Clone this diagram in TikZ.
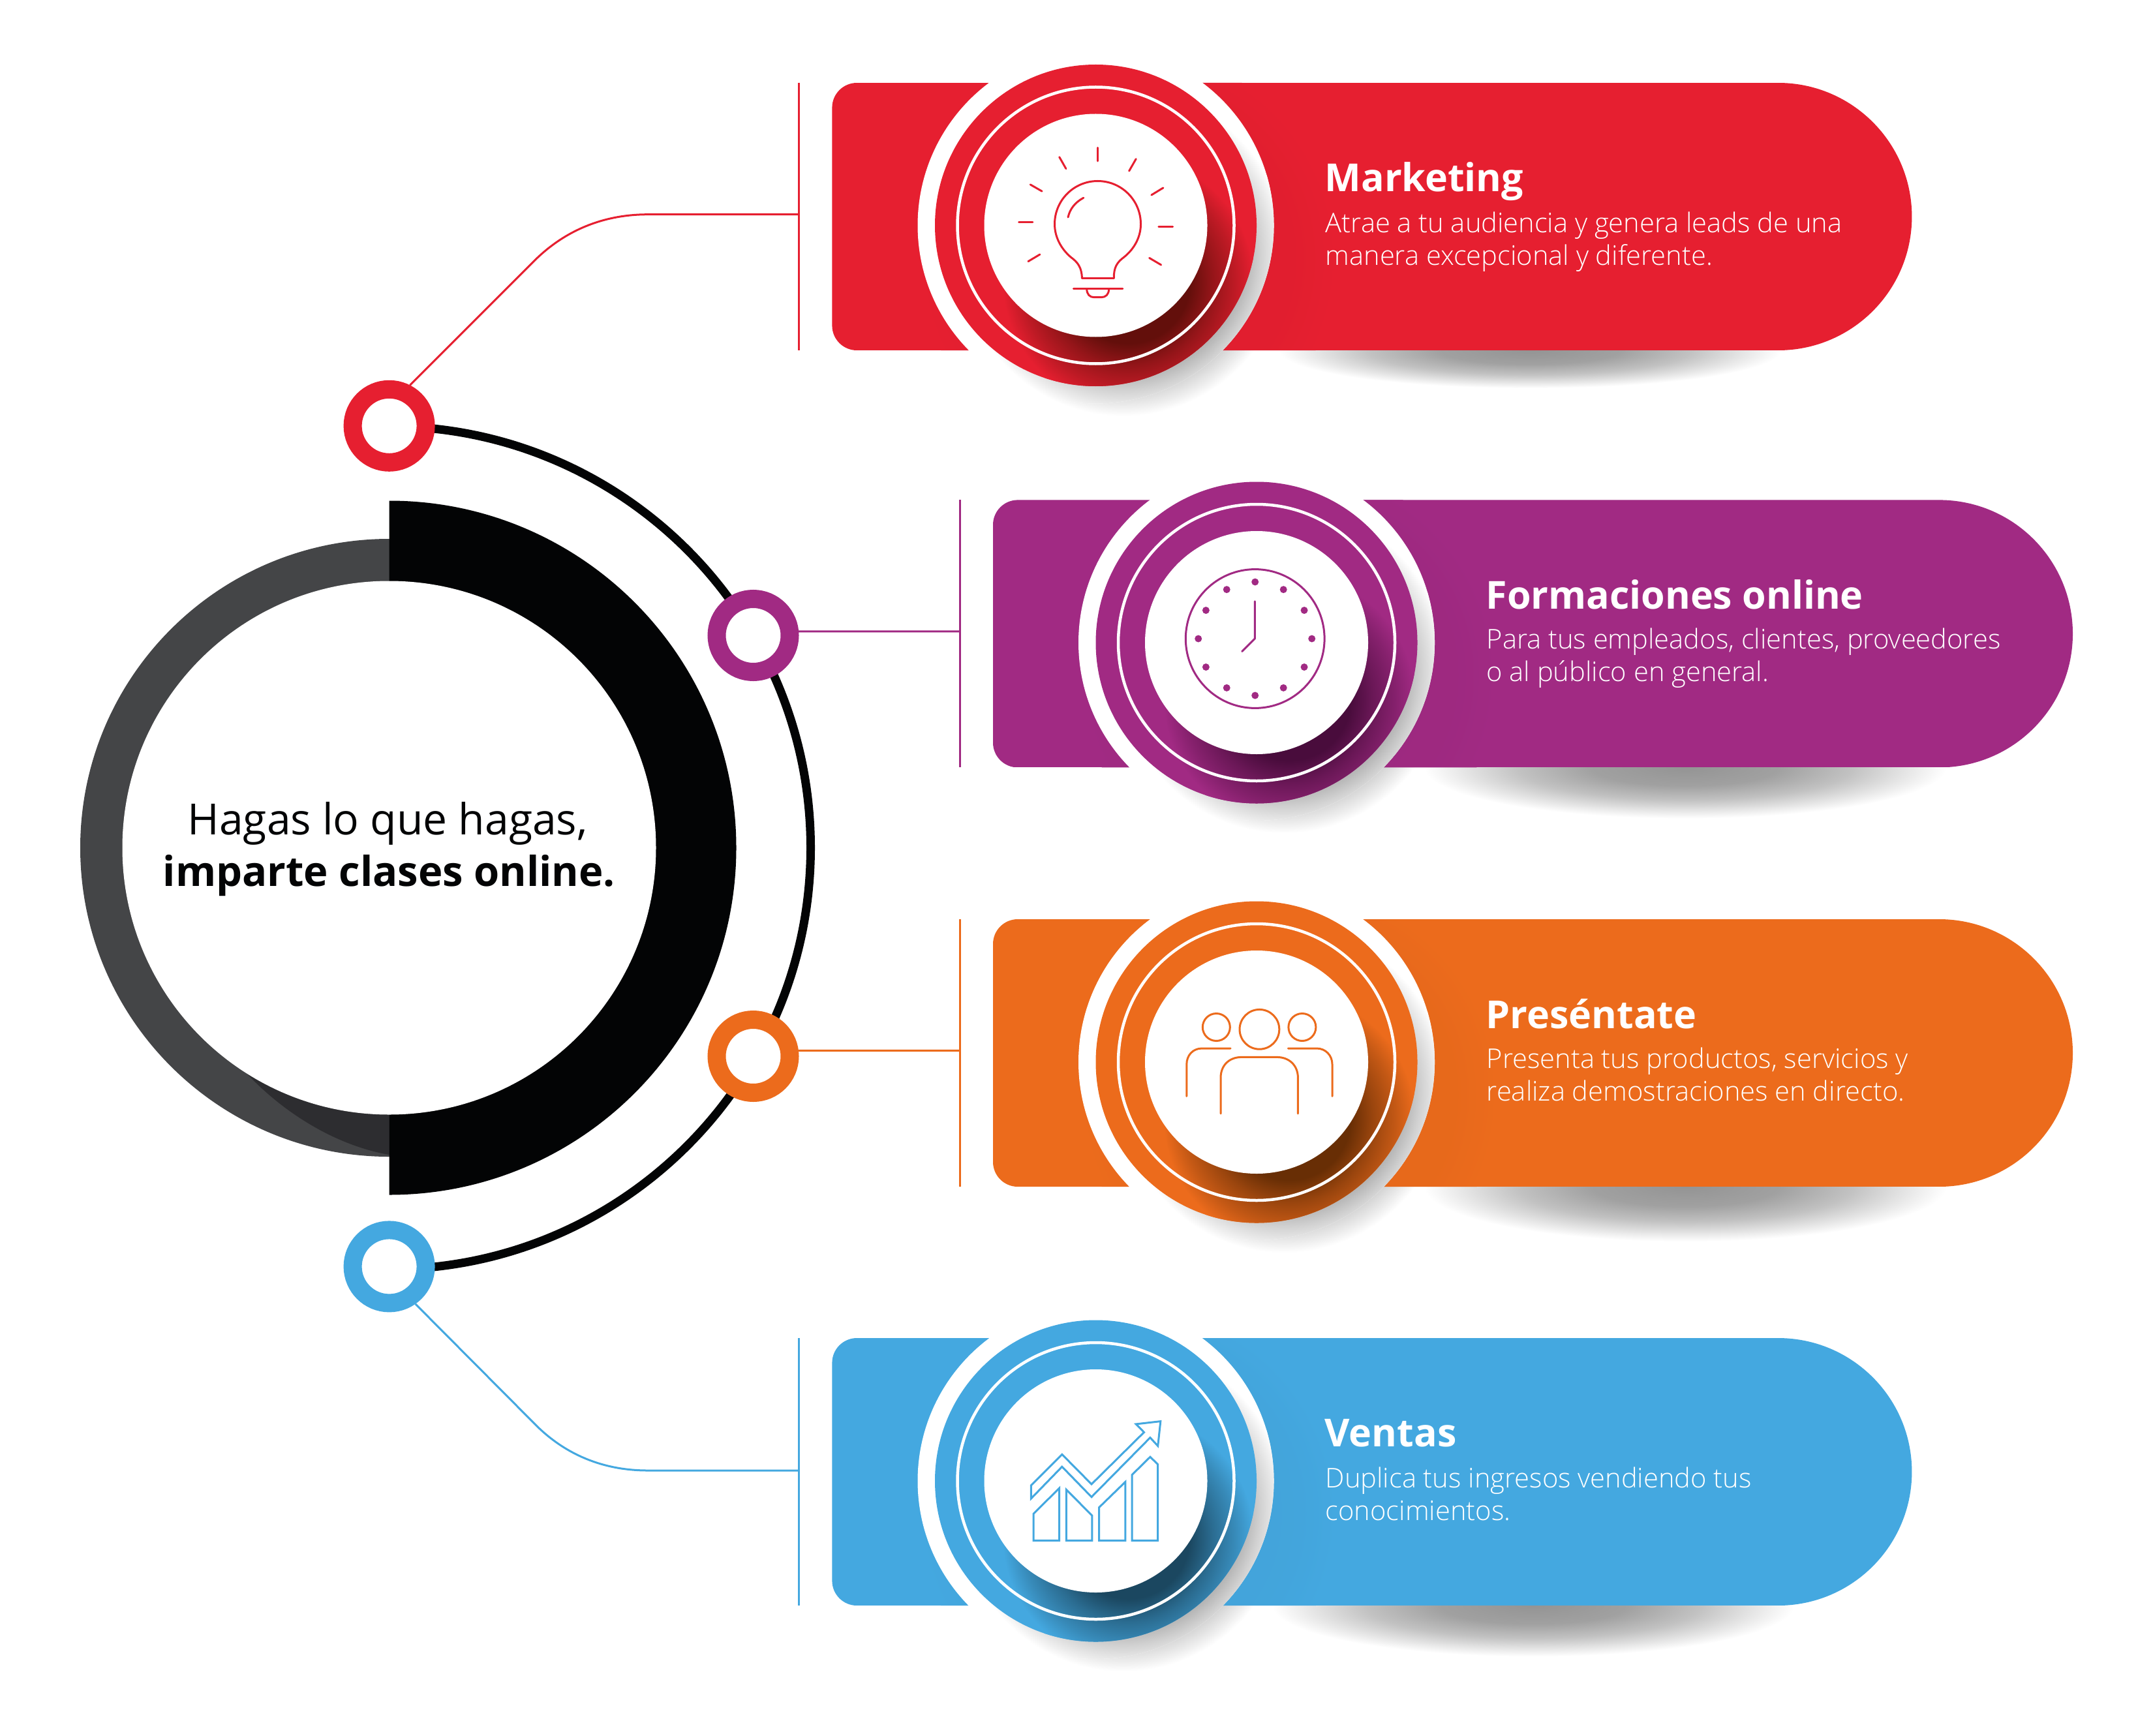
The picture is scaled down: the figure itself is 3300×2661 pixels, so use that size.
\documentclass[tikz,border=0pt]{standalone}
\usepackage{fontspec}
\setmainfont{Open Sans}
\newfontfamily\oslight{Open Sans Light}
\def\px{0.01cm}
\definecolor{cR}{HTML}{E61F30}
\definecolor{cP}{HTML}{A12A83}
\definecolor{cO}{HTML}{EC6B1C}
\definecolor{cB}{HTML}{44A8E0}
\definecolor{kR}{HTML}{630F0B}
\definecolor{kP}{HTML}{490C3C}
\definecolor{kO}{HTML}{682E05}
\definecolor{kB}{HTML}{1B4760}
\definecolor{inkK}{HTML}{030405}
\definecolor{ringG}{HTML}{444547}
\definecolor{cresG}{HTML}{2D2D30}
\pgfdeclareradialshading{shGray}{\pgfpointorigin}{color(0bp)=(black!32);color(18.6bp)=(black!30);color(21bp)=(black!18);color(23.5bp)=(black!7);color(25bp)=(white);color(50bp)=(white)}
\pgfdeclareradialshading{shUnder}{\pgfpointorigin}{color(0bp)=(black!42);color(9bp)=(black!37);color(16bp)=(black!24);color(22bp)=(black!8);color(25bp)=(white);color(50bp)=(white)}
\newcommand\mkshades[1]{%
\pgfdeclareradialshading{sh#1}{\pgfpointorigin}{color(0bp)=(k#1);color(12bp)=(k#1);color(16.5bp)=(k#1!62!c#1);color(21bp)=(k#1!30!c#1);color(24.7bp)=(c#1);color(50bp)=(c#1)}%
\pgfdeclareradialshading{bt#1}{\pgfpointorigin}{color(0bp)=(c#1!97!black);color(20bp)=(c#1!98!black);color(25bp)=(c#1);color(50bp)=(c#1)}%
}
\mkshades{R}\mkshades{P}\mkshades{O}\mkshades{B}
\tikzset{
  icon/.style={line width=3*\px,line cap=round,line join=round},
  cardtitle/.style={anchor=base west,inner sep=0pt,text=white,font=\fontsize{16.8pt}{20pt}\selectfont\bfseries},
  carddesc/.style={anchor=base west,inner sep=0pt,text=white,font=\oslight\fontsize{11.84pt}{14pt}\selectfont},
  dotring/.style={circle,fill=white,line width=28*\px,minimum size=112*\px,inner sep=0pt},
  thinline/.style={line width=3*\px},
  mainline/.style={anchor=base,inner sep=0pt,text=inkK,font=\fontsize{18.75pt}{24pt}\selectfont},
}
% #1 key, #2 band left, #3 band top, #4 cx, #5 cy, #6 under-shadow cx, #7 rx, #8 ry
\newcommand\card[8]{%
  \pgfmathsetmacro\cB{#3+410}%
  \pgfmathsetmacro\cRx{#2+1450}%
  \shade[shading=shUnder] (#6,\cB) ellipse [x radius=#7,y radius=#8];
  \shade[shading=shGray] ({#4+42},{#5+42}) circle[radius=250];
  \begin{scope}
    \clip ({#2+38},#3) -- (\cRx,#3) arc[start angle=-90,end angle=90,radius=205] -- ({#2+38},\cB) arc[start angle=90,end angle=180,radius=38] -- (#2,{#3+38}) arc[start angle=180,end angle=270,radius=38] -- cycle;
    \fill[c#1] (#2,#3) rectangle ({#2+1660},\cB);
    \shade[shading=bt#1] ({#4+50},{#5+50}) circle[radius=320];
  \end{scope}
  \fill[white] (#4,#5) circle[radius=273];
  \begin{scope}
    \clip (#4,#5) circle[radius=273];
    \shade[shading=shGray] ({#4+42},{#5+42}) circle[radius=250];
  \end{scope}
  \fill[c#1] (#4,#5) circle[radius=246.5];
  \begin{scope}
    \clip (#4,#5) circle[radius=246.5];
    \shade[shading=sh#1] ({#4+50},{#5+87}) circle[radius=195];
  \end{scope}
  \draw[white,line width=4.5*\px] (#4,#5) circle[radius=212];
  \fill[white] (#4,#5) circle[radius=171];
}
\begin{document}
\begin{tikzpicture}[x=0.01cm,y=-0.01cm]
\useasboundingbox (0,0) rectangle (3300,2661);
\fill[white] (0,0) rectangle (3300,2661);

% ---- centre
\fill[ringG] (596.5,1299.5) circle[radius=473.5];
\begin{scope}
  \clip (596.5,1299.5) circle[radius=473.5];
  \fill[cresG] (367,1633) .. controls (425,1700) and (510,1755) .. (596.5,1770) -- (596.5,1299.5) -- cycle;
\end{scope}
\fill[inkK] (596.5,767.5) arc[start angle=-90,end angle=90,radius=532] -- cycle;
\fill[white] (596.5,1299.5) circle[radius=409];
\node[mainline] (mainA) at (594,1279.4) {Hagas lo que hagas,};
\node[mainline,font=\fontsize{18pt}{24pt}\selectfont\bfseries] (mainB) at (596.5,1358.8) {imparte clases online.};

% ---- cards
\card{R}{1275.4}{127}{1679.5}{345.5}{2345}{385}{58}
\card{P}{1522}{766.4}{1926}{985}{2583}{400}{78}
\card{O}{1522}{1409}{1926}{1628}{2583}{400}{84}
\card{B}{1275.4}{2051}{1679.5}{2270}{2350}{400}{78}

% ---- texts
\node[cardtitle] (tM) at (2030,294) {Marketing};
\node[carddesc] (dMa) at (2031,357) {Atrae a tu audiencia y genera leads de una};
\node[carddesc] (dMb) at (2031,407) {manera excepcional y diferente.};
\node[cardtitle] (tF) at (2277,933.7) {Formaciones online};
\node[carddesc] (dFa) at (2278,994) {Para tus empleados, clientes, proveedores};
\node[carddesc] (dFb) at (2278,1044) {o al público en general.};
\node[cardtitle] (tP) at (2277,1576.5) {Preséntate};
\node[carddesc] (dPa) at (2278,1637) {Presenta tus productos, servicios y};
\node[carddesc] (dPb) at (2278,1687) {realiza demostraciones en directo.};
\node[cardtitle] (tV) at (2030,2217.5) {Ventas};
\node[carddesc] (dVa) at (2031,2280) {Duplica tus ingresos vendiendo tus};
\node[carddesc] (dVb) at (2031,2330) {conocimientos.};

% ---- connectors
\draw[inkK,line width=13*\px] (596.5,653.5) arc[start angle=-90,end angle=90,radius=646];
\node[dotring,draw=cR] (dotR) at (596.6,652.8) {};
\node[dotring,draw=cP] (dotP) at (1154.5,974) {};
\node[dotring,draw=cO] (dotO) at (1154.5,1619) {};
\node[dotring,draw=cB] (dotB) at (596.6,1941.4) {};

\coordinate (rTop) at (1224.4,126.7);
\coordinate (rBot) at (1224.4,536.7);
\coordinate (rA) at (817,401.7);
\coordinate (rC) at (1224.4,328.7);
\draw[thinline,cR] (rTop) -- (rBot);
\draw[thinline,cR] (dotR.63) -- (rA) .. controls (865,353) and (925,328.7) .. (993,328.7) -- (rC);

\coordinate (pTop) at (1471,766.4);
\coordinate (pBot) at (1471,1176.4);
\coordinate (pC) at (1471,967.9);
\draw[thinline,cP] (pTop) -- (pBot);
\draw[thinline,cP] (dotP.5) -- (pC);

\coordinate (oTop) at (1471,1409);
\coordinate (oBot) at (1471,1819);
\coordinate (oC) at (1471,1610.4);
\draw[thinline,cO] (oTop) -- (oBot);
\draw[thinline,cO] (dotO.7) -- (oC);

\coordinate (bTop) at (1224.4,2051);
\coordinate (bBot) at (1224.4,2461);
\coordinate (bA) at (817,2180);
\coordinate (bC) at (1224.4,2254);
\draw[thinline,cB] (bTop) -- (bBot);
\draw[thinline,cB] (dotB.-55) -- (bA) .. controls (865,2230) and (925,2254) .. (993,2254) -- (bC);

% ---- bulb icon
\begin{scope}[icon,cR]
  \draw (1658.4,426.4) -- (1707.3,426.4);
  \draw (1658.4,426.4) .. controls (1658,410) and (1652,402) .. (1641,394) .. controls (1626,381) and (1616.5,363) .. (1616.5,343.5) .. controls (1616.5,307) and (1646,277.5) .. (1682.5,277.5) .. controls (1719,277.5) and (1748.5,307) .. (1748.5,343.5) .. controls (1748.5,363) and (1739,381) .. (1723,394) .. controls (1712,402) and (1707,410) .. (1707.3,426.4);
  \draw (1645.3,442.9) -- (1720.8,442.9);
  \draw (1665.7,443) .. controls (1666,451) and (1670,455.7) .. (1677,455.7) -- (1688,455.7) .. controls (1695,455.7) and (1699.6,451) .. (1699.6,443);
  \draw (1660.8,303.2) .. controls (1648,310) and (1640,320) .. (1637,333);
  \draw (1682.4,226.4) -- (1682.4,246.8);
  \draw (1623.7,240.7) -- (1633.9,258.6);
  \draw (1741.2,243.6) -- (1730.6,262.1);
  \draw (1579.2,282.9) -- (1597.1,293.2);
  \draw (1782.9,287.9) -- (1764.9,298.9);
  \draw (1561.6,341) -- (1582.9,341);
  \draw (1775.9,347.5) -- (1797.6,347.5);
  \draw (1575.9,400.7) -- (1593.9,390);
  \draw (1761.6,395.4) -- (1779.6,406);
\end{scope}

% ---- clock icon
\begin{scope}[icon,cP]
  \draw (1923.7,979) circle[radius=106.4];
  \foreach \a in {0,30,...,330} \fill ({1923.7+87*cos(\a)},{979+87*sin(\a)}) circle[radius=5.5];
  \draw (1923.3,921.8) -- (1923.3,979) -- (1903.7,998.6);
\end{scope}

% ---- people icon
\begin{scope}[icon,cO]
  \draw (1930.4,1577.8) circle[radius=30.4];
  \draw (1864.3,1574.5) circle[radius=21];
  \draw (1995.9,1574.5) circle[radius=21];
  \draw (1871,1707) -- (1871,1652) .. controls (1871,1633) and (1884,1620.4) .. (1903,1620.4) -- (1957,1620.4) .. controls (1976,1620.4) and (1989.4,1633) .. (1989.4,1652) -- (1989.4,1707);
  \draw (1886,1607) -- (1842.4,1607) .. controls (1828,1607) and (1818.8,1618) .. (1818.8,1631.4) -- (1818.8,1680.4);
  \draw (1974.3,1607) -- (2018,1607) .. controls (2032,1607) and (2042,1618) .. (2042,1631.4) -- (2042,1680.4);
\end{scope}

% ---- chart icon
\begin{scope}[icon,cB,line cap=butt,line join=miter]
  \draw (1580.4,2297) -- (1580.4,2276.8) -- (1627.8,2229.3) -- (1673,2275) -- (1753.5,2195.4) -- (1741.2,2182.9) -- (1778.8,2178.6) -- (1774.7,2216.4) -- (1762.9,2203.6) -- (1673,2294.6) -- (1627.8,2248.2) -- cycle;
  \draw (1584,2361.4) -- (1584,2320.4) -- (1623.7,2281) -- (1623.7,2361.4) -- cycle;
  \draw (1634.3,2361.4) -- (1634.3,2283.2) -- (1673.9,2323.2) -- (1673.9,2361.4) -- cycle;
  \draw (1684.5,2361.4) -- (1684.5,2310.7) -- (1724.9,2271.4) -- (1724.9,2361.4) -- cycle;
  \draw (1735,2361.4) -- (1735,2260.7) -- (1762.9,2233.2) -- (1774.7,2244.6) -- (1774.7,2361.4) -- cycle;
\end{scope}
\end{tikzpicture}
\end{document}
